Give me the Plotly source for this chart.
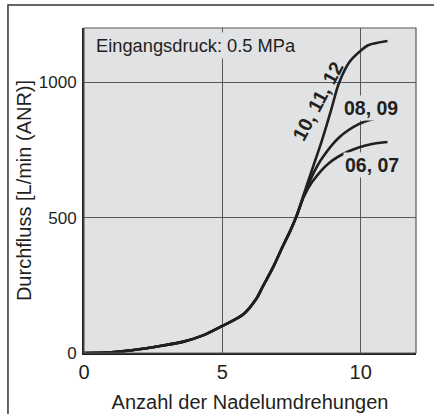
import plotly.graph_objects as go

# Shared rising part of the flow curve (needle turns -> flow L/min ANR)
common_turns = [0, 1.0, 1.8, 2.7, 3.6, 4.3, 5.0, 5.75, 6.24, 6.47, 6.85, 7.19, 7.45, 7.68]
common_flow = [0, 3, 11, 25, 42, 65, 100, 142, 202, 247, 320, 395, 450, 505]

# Branches
turns_0607 = [7.95, 8.25, 8.85, 9.57, 10.41, 10.97]
flow_0607 = [578, 632, 701, 745, 772, 779]

turns_0809 = [7.95, 8.3, 8.61, 9.21, 9.93, 10.5, 10.97]
flow_0809 = [583, 665, 720, 795, 845, 865, 873]

turns_1012 = [8.13, 8.61, 8.94, 9.21, 9.6, 9.99, 10.29, 10.97]
flow_1012 = [643, 788, 900, 995, 1075, 1115, 1137, 1152]

x_ticks = [0, 5, 10]
y_ticks = [0, 500, 1000]

series_labels = ["06, 07", "08, 09", "10, 11, 12"]

FONT = "Liberation Sans, Arial, Helvetica, sans-serif"
LINE = "#231f20"
BG = "#e1e2e4"

fig = go.Figure()
for bx, by, name in [(turns_0607, flow_0607, series_labels[0]),
                     (turns_0809, flow_0809, series_labels[1]),
                     (turns_1012, flow_1012, series_labels[2])]:
    fig.add_trace(go.Scatter(
        x=common_turns + bx, y=common_flow + by, mode="lines", name=name,
        line=dict(color=LINE, width=2.6, shape="spline", smoothing=0.8),
        showlegend=False, hoverinfo="skip"))

fig.update_layout(
    width=434, height=414,
    margin=dict(l=84, r=18, t=28, b=61),
    paper_bgcolor="white", plot_bgcolor=BG,
    font=dict(family=FONT, size=19, color="#231f20"),
    xaxis=dict(range=[0, 12], tickvals=x_ticks, showgrid=True, gridcolor="#58595b",
               gridwidth=1, zeroline=False, showline=True, linecolor=LINE, linewidth=2,
               mirror=False, ticks="", tickfont=dict(size=20), automargin=False,
               title=dict(text="Anzahl der Nadelumdrehungen", font=dict(size=20), standoff=13)),
    yaxis=dict(range=[0, 1200], tickvals=y_ticks, showgrid=True, gridcolor="#58595b",
               gridwidth=1, zeroline=False, showline=True, linecolor=LINE, linewidth=2,
               ticks="", tickfont=dict(size=17), automargin=False, ticklabelstandoff=2,
               title=dict(text="Durchfluss [L/min (ANR)]", font=dict(size=20), standoff=2)),
)

# plot area border (top/right thin)
fig.add_shape(type="rect", xref="paper", yref="paper", x0=0, y0=0, x1=1, y1=1,
              line=dict(color="#58595b", width=1.2), layer="above")
# outer frame (cropped)
fig.add_shape(type="rect", xref="paper", yref="paper", x0=-0.229, y0=-0.25, x1=1.1, y1=1.071,
              line=dict(color="#333333", width=1.5), layer="above")

fig.add_annotation(x=0.33, y=1137, xref="x", yref="y", text="Eingangsdruck: 0.5 MPa",
                   showarrow=False, xanchor="left", yanchor="middle",
                   font=dict(size=18.3), bgcolor=BG, borderpad=2)
fig.add_annotation(x=10.37, y=906, xref="x", yref="y", text="<b>08, 09</b>",
                   showarrow=False, font=dict(size=19.5), bgcolor=BG, borderpad=1)
fig.add_annotation(x=10.41, y=694, xref="x", yref="y", text="<b>06, 07</b>",
                   showarrow=False, font=dict(size=19.5), bgcolor=BG, borderpad=1)
fig.add_annotation(x=8.45, y=930, xref="x", yref="y", text="<b>10, 11, 12</b>",
                   showarrow=False, textangle=-62, font=dict(size=19.5))

fig.write_html("out.html", config={"displayModeBar": False},
               post_script="document.body.style.margin='0';")
